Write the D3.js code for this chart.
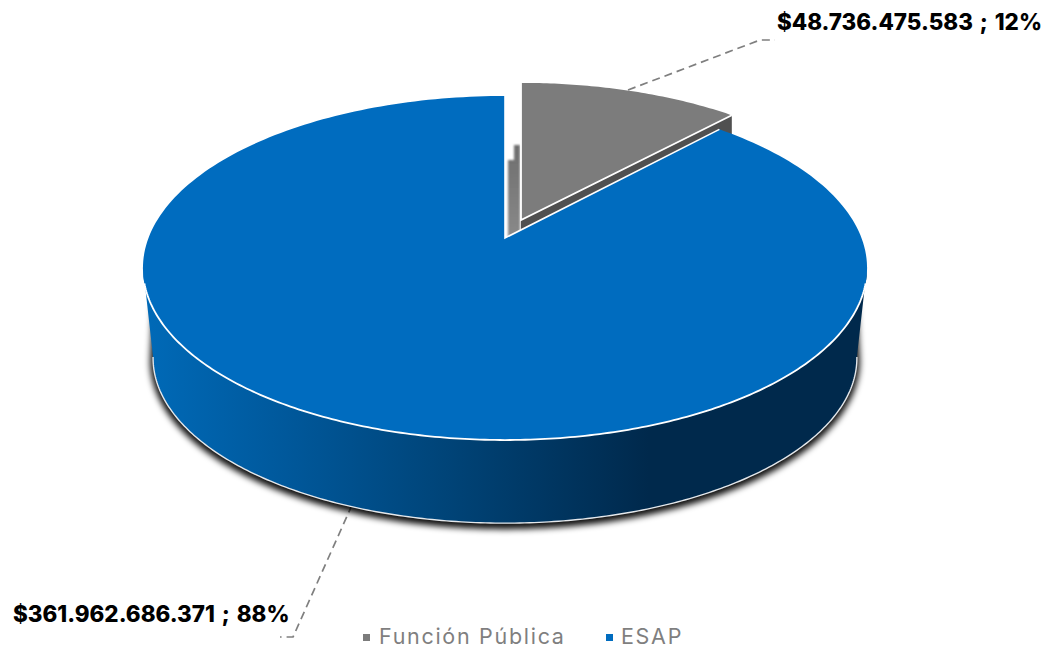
<!DOCTYPE html>
<html><head><meta charset="utf-8">
<script src="https://cdn.jsdelivr.net/npm/d3@7"></script>
<style>html,body{margin:0;background:#fff}svg{display:block}</style>
</head><body><svg id="c" width="1048" height="648"></svg>
<script>
const categories = ['Función Pública', 'ESAP'];
const seriesValues = [48736475583, 361962686371];
const seriesColors = ['#7c7c7c', '#006cbf'];

const svg = d3.select('#c');
const defs = svg.append('defs');
// perspective disc
const apex = {x: 505, y: 238}, k = 0.1744, A = 166.8, B = 356.5;
const cx = 504, cy = 268, botCy = 358, sx = 0.972, sy = 0.96;
const explode = {dY: 0.11, dx: 16};
const xScale = d3.scaleLinear().domain([0, 1]).range([apex.x, apex.x + B]);
const yScale = d3.scaleLinear().domain([0, 1]).range([apex.y, apex.y - A]);
function proj(r, a, dY = 0) {
  const X = r * Math.sin(a), Y = r * Math.cos(a) + dY, w = 1 + k * Y;
  return [xScale(X / w), yScale(Y / w)];
}
const lower = p => [cx + (p[0] - cx) * sx, botCy + (p[1] - cy) * sy];
const pts = (a0, a1, n = 240) => d3.range(n + 1).map(i => a0 + (a1 - a0) * i / n);
const line = d3.line();

const pie = d3.pie().sort(null).value(d => d)(seriesValues);
const gray = pie[0], blue = pie[1];
const total = d3.sum(seriesValues);
const fmt = d3.formatLocale({decimal: ',', thousands: '.', grouping: [3], currency: ['$', '']}).format('$,.0f');
const labels = seriesValues.map(v => `${fmt(v)} ; ${Math.round(v / total * 100)}%`);

// defs
const grad = defs.append('linearGradient').attr('id', 'side').attr('gradientUnits', 'userSpaceOnUse')
  .attr('x1', 142).attr('x2', 866).attr('y1', 0).attr('y2', 0);
[[0, '#006ab8'], [0.2, '#00589b'], [0.42, '#004478'], [0.7, '#00294c'], [1, '#00294c']]
  .forEach(s => grad.append('stop').attr('offset', s[0]).attr('stop-color', s[1]));
const sh = defs.append('filter').attr('id', 'shadow').attr('x', '-10%').attr('y', '-10%').attr('width', '120%').attr('height', '120%');
sh.append('feGaussianBlur').attr('stdDeviation', 3);
defs.append('filter').attr('id', 'soft').append('feGaussianBlur').attr('stdDeviation', 0.8);
const wg = defs.append('linearGradient').attr('id', 'wall').attr('x1', 0).attr('x2', 0).attr('y1', 0).attr('y2', 1);
[[0, '#6e6e6e'], [1, '#8a8a8a']].forEach(s => wg.append('stop').attr('offset', s[0]).attr('stop-color', s[1]));

// leader lines (behind the pie)
const leaders = [
  [[628, 90], [760, 40], [775, 40]],
  [[352, 505], [293, 637], [280, 637]]
];
svg.selectAll('path.leader').data(leaders).join('path').attr('class', 'leader')
  .attr('d', d => line(d)).attr('fill', 'none').attr('stroke', '#7f7f7f').attr('stroke-width', 1.7).attr('stroke-dasharray', '8 5');

// blue side: front of the rim, then the lower rim back
const leftA = 2 * Math.PI * 0.723, rightA = 2 * Math.PI * 0.277;
const frontA = pts(leftA, rightA);
const topFront = frontA.map(a => proj(1, a));
const botFront = topFront.map(lower);
const sideShape = line(topFront.concat(botFront.slice().reverse())) + 'Z';
const shadowShape = line(topFront.slice(22, -22).concat(botFront.slice().reverse())) + 'Z';
svg.append('path').attr('d', shadowShape).attr('fill', '#000').attr('fill-opacity', 0.9)
  .attr('stroke', '#000').attr('stroke-width', 6).attr('stroke-opacity', 0.9)
  .attr('transform', 'translate(0,3)').attr('filter', 'url(#shadow)');
svg.append('path').attr('d', sideShape).attr('fill', 'url(#side)');
svg.append('path').attr('d', line(botFront)).attr('fill', 'none').attr('stroke', '#e4e8ec').attr('stroke-width', 1.4);

// inner wall in the gap
const gApex = proj(0, 0, explode.dY); gApex[0] += explode.dx;
svg.append('path').attr('d', line([[apex.x + 3, apex.y], [apex.x + 3, 160], [apex.x + 9, 160], [apex.x + 9, 145], [gApex[0] - 1, 145], [gApex[0] - 1, apex.y]]) + 'Z')
  .attr('fill', 'url(#wall)').attr('filter', 'url(#soft)');

// gray slice: side then top
const gp = pts(gray.startAngle, gray.endAngle, 60).map(a => { const p = proj(1, a, explode.dY); return [p[0] + explode.dx, p[1]]; });
const gEnd = gp[gp.length - 1];
const gDepth = 60;
svg.append('path').attr('d', line([gApex, gEnd, [gEnd[0], gEnd[1] + gDepth], [gApex[0], gApex[1] + gDepth]]) + 'Z').attr('fill', '#505050');

// blue top
const bp = pts(blue.startAngle, blue.endAngle).map(a => proj(1, a));
svg.append('path').attr('d', line([[apex.x, apex.y]].concat(bp)) + 'Z').attr('fill', seriesColors[1]);
svg.append('path').attr('d', line([bp[0], [apex.x, apex.y], bp[bp.length - 1]])).attr('fill', 'none').attr('stroke', '#fff').attr('stroke-width', 1.6);
svg.append('path').attr('d', line(topFront.slice(8, -8))).attr('fill', 'none').attr('stroke', '#fff').attr('stroke-width', 1.8);

svg.append('path').attr('d', line([gApex].concat(gp)) + 'Z').attr('fill', seriesColors[0]);
svg.append('path').attr('d', line([gp[0], gApex, gEnd])).attr('fill', 'none').attr('stroke', '#fff').attr('stroke-width', 1.8);

// data labels
const lab = [{x: 777, y: 30, i: 0}, {x: 13, y: 622, i: 1}];
svg.selectAll('text.dl').data(lab).join('text').attr('class', 'dl')
  .attr('x', d => d.x).attr('y', d => d.y).text(d => labels[d.i])
  .attr('font-family', 'Inter').attr('font-weight', 800).attr('font-size', 22.4).attr('word-spacing', 2).attr('fill', '#000');

// legend
const lg = [{sq: 363, tx: 379}, {sq: 606, tx: 621}];
const L = svg.selectAll('g.lg').data(lg).join('g').attr('class', 'lg');
L.append('rect').attr('x', d => d.sq).attr('y', 634).attr('width', 7).attr('height', 7).attr('fill', (d, i) => seriesColors[i]);
L.append('text').attr('x', d => d.tx).attr('y', 644).text((d, i) => categories[i])
  .attr('font-family', 'Inter').attr('font-size', 21.5).attr('letter-spacing', 1.7).attr('fill', '#7f7f7f');
</script></body></html>
